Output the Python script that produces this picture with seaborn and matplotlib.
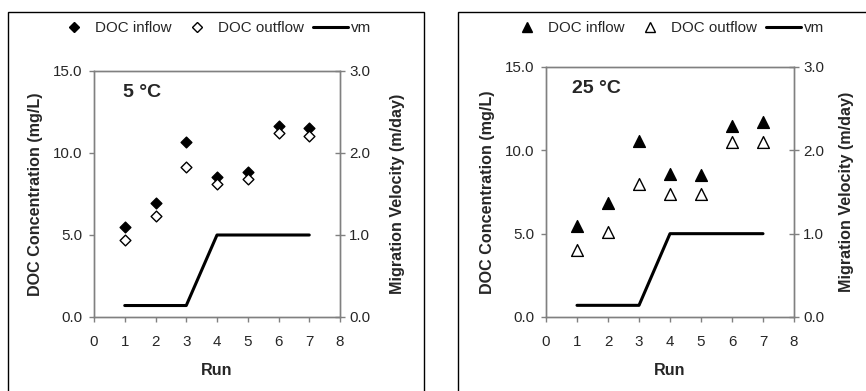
import numpy as np
import pandas as pd
import matplotlib
matplotlib.use('Agg')
import matplotlib.pyplot as plt
from matplotlib.lines import Line2D
from matplotlib.patches import Rectangle
import seaborn as sns

# Data
runs = [1, 2, 3, 4, 5, 6, 7]
inflow_5c = [5.47, 6.93, 10.7, 8.56, 8.82, 11.66, 11.5]
outflow_5c = [4.7, 6.18, 9.12, 8.11, 8.41, 11.25, 11.05]
inflow_25c = [5.44, 6.84, 10.56, 8.6, 8.54, 11.48, 11.7]
outflow_25c = [4.04, 5.1, 8.0, 7.36, 7.36, 10.5, 10.5]
vm = [0.14, 0.14, 0.14, 1.0, 1.0, 1.0, 1.0]

sns.set_theme(style='white')
plt.rcParams['font.family'] = ['Liberation Sans', 'DejaVu Sans']
FS = 10.9        # tick and legend text
LFS = 11.6       # bold axis labels
GREY = '#808080'

fig = plt.figure(figsize=(8.66, 3.91), dpi=100)

# Panel frames (open at the bottom, as in the cropped original)
fig.add_artist(Rectangle((8 / 866, -0.1), (424 - 8) / 866, 1.1 - 12 / 391,
                         transform=fig.transFigure, fill=False, edgecolor='black', linewidth=1))
fig.add_artist(Rectangle((458 / 866, -0.1), 0.6, 1.1 - 12 / 391,
                         transform=fig.transFigure, fill=False, edgecolor='black', linewidth=1))


def panel(rect, inflow, outflow, marker, msize, lsize, label, label_x, legend_x, rpad):
    ax = fig.add_axes(rect)
    df = pd.DataFrame({'Run': runs, 'inflow': inflow, 'outflow': outflow, 'vm': vm})
    sns.scatterplot(data=df, x='Run', y='inflow', ax=ax, marker=marker, s=msize,
                    color='black', edgecolor='black', linewidth=1, zorder=3)
    sns.scatterplot(data=df, x='Run', y='outflow', ax=ax, marker=marker, s=msize,
                    facecolor='white', edgecolor='black', linewidth=1, zorder=4)
    ax.set_xlim(0, 8)
    ax.set_ylim(0, 15)
    ax.set_xticks(range(0, 9))
    ax.set_yticks([0, 5, 10, 15])
    ax.set_yticklabels(['0.0', '5.0', '10.0', '15.0'])
    ax.set_xlabel('Run', fontsize=LFS, fontweight='bold', labelpad=10)
    ax.set_ylabel('DOC Concentration (mg/L)', fontsize=LFS, fontweight='bold', labelpad=7)
    ax.tick_params(axis='both', labelsize=FS, direction='out', length=3.6, width=1,
                   color=GREY, left=True, bottom=True)
    ax.tick_params(axis='x', pad=9.5)
    ax.tick_params(axis='y', pad=5)
    for sp in ax.spines.values():
        sp.set_color(GREY)
        sp.set_linewidth(1)
    ax.text(label_x, 13.7, label, fontsize=14, fontweight='bold', va='center', ha='left')

    ax2 = ax.twinx()
    sns.lineplot(data=df, x='Run', y='vm', ax=ax2, color='black', linewidth=2.2)
    ax2.set_ylim(0, 3)
    ax2.set_yticks([0, 1, 2, 3])
    ax2.set_yticklabels(['0.0', '1.0', '2.0', '3.0'])
    ax2.set_ylabel('Migration Velocity (m/day)', fontsize=LFS, fontweight='bold', labelpad=rpad)
    ax2.tick_params(axis='y', labelsize=FS, direction='inout', length=7, width=1,
                    color=GREY, right=True, pad=3)
    ax2.set_xlabel('')
    for sp in ax2.spines.values():
        sp.set_color(GREY)
        sp.set_linewidth(1)
    ax2.grid(False)
    ax.grid(False)

    handles = [
        Line2D([], [], marker=marker, linestyle='none', color='black', markersize=lsize),
        Line2D([], [], marker=marker, linestyle='none', markerfacecolor='white',
               markeredgecolor='black', markersize=lsize),
        Line2D([], [], color='black', linewidth=2.2),
    ]
    fig.legend(handles, ['DOC inflow', 'DOC outflow', 'vm'], loc='center',
               bbox_to_anchor=(legend_x, 1 - 28 / 391), ncol=3, frameon=False,
               fontsize=FS, handlelength=2.3, handletextpad=0.25, columnspacing=0.55,
               borderpad=0, borderaxespad=0)


panel([94 / 866, 1 - 317 / 391, 246 / 866, 246 / 391], inflow_5c, outflow_5c,
      'D', 30, 5.6, '5 °C', 0.94, 214 / 866, 14)
panel([546 / 866, 1 - 317 / 391, 248 / 866, 250 / 391], inflow_25c, outflow_25c,
      '^', 72, 7.5, '25 °C', 0.84, 667 / 866, 11)

fig.savefig('out.png', dpi=100)
